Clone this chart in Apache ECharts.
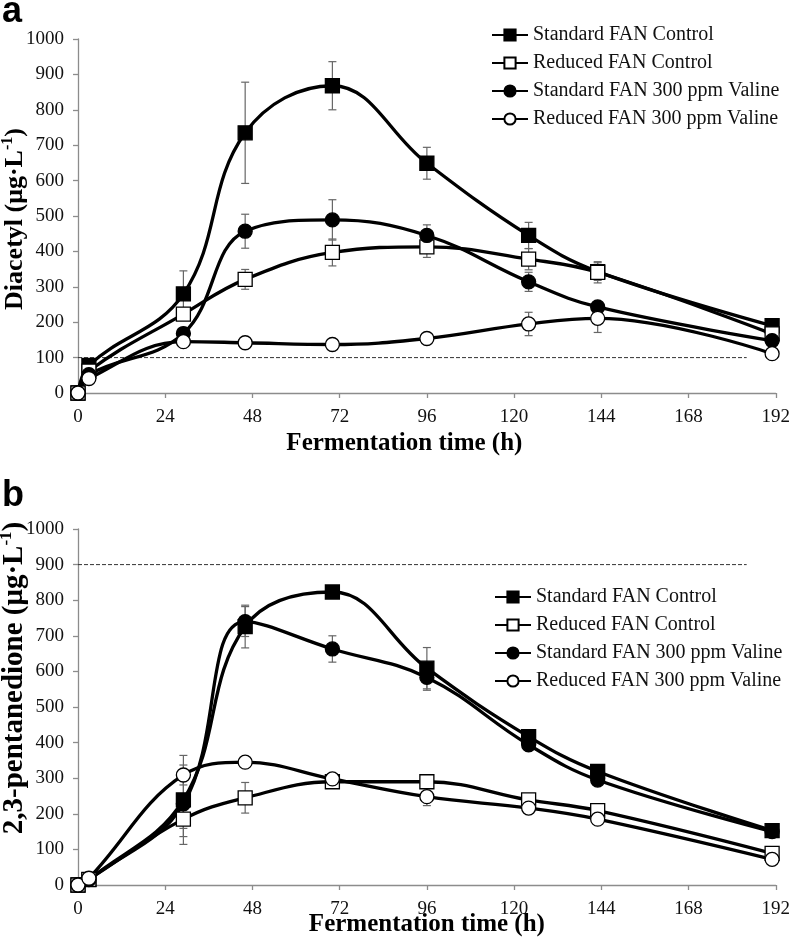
<!DOCTYPE html>
<html><head><meta charset="utf-8">
<script src="https://cdn.jsdelivr.net/npm/echarts@6/dist/echarts.min.js"></script>
<style>html,body{margin:0;padding:0;background:#fff}#c{width:793px;height:946px}</style>
</head><body><div id="c"></div>
<script>
// ---- data ----
const hours = [0, 3, 29, 46, 70, 96, 124, 143, 191];
const seriesNames = ['Standard FAN Control', 'Reduced FAN Control', 'Standard FAN 300 ppm Valine', 'Reduced FAN 300 ppm Valine'];

// Panel a: Diacetyl
const diaStdCtrl = [0, 78, 280, 735, 868, 649, 445, 343, 190];
const diaStdCtrlErr = [0, 0, 65, 143, 68, 45, 37, 25, 0];
const diaRedCtrl = [0, 62, 223, 321, 397, 413, 378, 341, 167];
const diaRedCtrlErr = [0, 0, 0, 28, 38, 30, 30, 30, 0];
const diaStdVal = [0, 52, 168, 457, 489, 445, 314, 243, 148];
const diaStdValErr = [0, 0, 0, 48, 57, 30, 27, 0, 0];
const diaRedVal = [0, 41, 145, 142, 137, 154, 195, 211, 111];
const diaRedValErr = [0, 0, 0, 15, 0, 0, 33, 40, 0];
const diaThreshold = 100;
const diaThresholdEnd = 184;

// Panel b: 2,3-pentanedione
const penStdCtrl = [0, 15, 239, 726, 823, 609, 417, 319, 153];
const penStdCtrlErr = [0, 0, 125, 60, 15, 58, 0, 0, 0];
const penRedCtrl = [0, 16, 185, 245, 290, 290, 239, 209, 89];
const penRedCtrlErr = [0, 0, 26, 43, 0, 10, 0, 0, 0];
const penStdVal = [0, 15, 228, 740, 663, 583, 394, 295, 150];
const penStdValErr = [0, 0, 92, 42, 37, 36, 0, 0, 0];
const penRedVal = [0, 19, 309, 345, 298, 248, 216, 185, 72];
const penRedValErr = [0, 0, 28, 0, 0, 25, 0, 0, 0];
const penThreshold = 900;
const penThresholdEnd = 184;

const xTitle = 'Fermentation time (h)';
const yTitleA = '{b|Diacetyl (μg·L}{s|-1}{b|)}';
const yTitleB = '{b|2,3-pentanedione (μg·L}{s|-1}{b|)}';

// ---- styles ----
const SERIF = 'Liberation Serif';
const styles = [
  {symbol: 'rect', fill: '#000'},
  {symbol: 'rect', fill: '#fff'},
  {symbol: 'circle', fill: '#000'},
  {symbol: 'circle', fill: '#fff'}
];

function pairs(vals) { return hours.map((h, i) => [h, vals[i]]); }
function errPairs(vals, errs) {
  const out = [];
  hours.forEach((h, i) => { if (errs[i] > 0) out.push([h, vals[i], errs[i]]); });
  return out;
}

function errRender(params, api) {
  const x = api.value(0), v = api.value(1), e = api.value(2);
  const top = api.coord([x, v + e]), bot = api.coord([x, v - e]);
  const w = 4;
  const st = {stroke: '#666', lineWidth: 1.2};
  return {type: 'group', children: [
    {type: 'line', shape: {x1: top[0], y1: top[1], x2: bot[0], y2: bot[1]}, style: st},
    {type: 'line', shape: {x1: top[0] - w, y1: top[1], x2: top[0] + w, y2: top[1]}, style: st},
    {type: 'line', shape: {x1: bot[0] - w, y1: bot[1], x2: bot[0] + w, y2: bot[1]}, style: st}
  ]};
}

function panelSeries(idx, sets, thr, thrEnd) {
  const out = [];
  sets.forEach((s) => {
    out.push({
      type: 'custom', xAxisIndex: idx, yAxisIndex: idx, z: 1, silent: true,
      renderItem: errRender, data: errPairs(s[0], s[1]), encode: {x: 0, y: 1}
    });
  });
  out.push({
    type: 'line', xAxisIndex: idx, yAxisIndex: idx, silent: true, symbol: 'none', z: 1,
    data: [[0, thr], [thrEnd, thr]],
    lineStyle: {color: '#333', width: 1, type: [4, 2]}
  });
  sets.forEach((s, k) => {
    out.push({
      name: seriesNames[k], type: 'line', xAxisIndex: idx, yAxisIndex: idx, z: 3,
      data: pairs(s[0]), smooth: 0.4,
      symbol: styles[k].symbol, symbolSize: 14, showAllSymbol: true,
      lineStyle: {color: '#000', width: 3.3},
      itemStyle: {color: styles[k].fill, borderColor: '#000', borderWidth: 1.3},
      emphasis: {disabled: true}
    });
  });
  return out;
}

function xAxis(idx, gap, pad) {
  return {
    type: 'value', gridIndex: idx, min: 0, max: 192, interval: 24,
    name: xTitle, nameLocation: 'middle', nameGap: gap, nameMoveOverlap: false,
    nameTextStyle: {fontFamily: SERIF, fontWeight: 'bold', fontSize: 25, color: '#000', padding: pad},
    axisLine: {lineStyle: {color: '#8c8c8c', width: 1.3}},
    axisTick: {show: true, length: 5, lineStyle: {color: '#8c8c8c', width: 1.3}},
    axisLabel: {fontFamily: SERIF, fontSize: 19, color: '#111', margin: 15},
    splitLine: {show: false}
  };
}
function yAxis(idx) {
  return {
    type: 'value', gridIndex: idx, min: 0, max: 1000, interval: 100,
    axisLine: {show: true, lineStyle: {color: '#8c8c8c', width: 1.3}},
    axisTick: {show: true, length: 5, lineStyle: {color: '#8c8c8c', width: 1.3}},
    axisLabel: {fontFamily: SERIF, fontSize: 19, color: '#111', margin: 14, formatter: (v) => String(v)},
    splitLine: {show: false}
  };
}
function legend(left, top) {
  return {
    data: seriesNames, orient: 'vertical', left: left, top: top,
    itemWidth: 36, itemHeight: 14, itemGap: 8, selectedMode: false,
    textStyle: {fontFamily: SERIF, fontSize: 20, color: '#111'}
  };
}
function yRich(size) {
  return {
    b: {fontFamily: SERIF, fontWeight: 'bold', fontSize: size, color: '#000', lineHeight: size + 4},
    s: {fontFamily: SERIF, fontWeight: 'bold', fontSize: Math.round(size * 0.6), color: '#000', verticalAlign: 'top', lineHeight: Math.round(size * 0.6)}
  };
}

const chart = echarts.init(document.getElementById('c'), null, {renderer: 'canvas'});
chart.setOption({
  backgroundColor: '#fff',
  animation: false,
  tooltip: {show: false},
  grid: [
    {left: 78, top: 39, width: 699, height: 354},
    {left: 78, top: 529, width: 699, height: 356}
  ],
  xAxis: [xAxis(0, 38, [0, 45, 0, 0]), xAxis(1, 27, 0)],
  yAxis: [yAxis(0), yAxis(1)],
  legend: [legend(486, 20), legend(489, 582)],
  graphic: [
    {type: 'text', left: 2, top: -6, style: {text: 'a', font: 'bold 36px "Liberation Sans"', fill: '#000'}},
    {type: 'text', left: 2, top: 478, style: {text: 'b', font: 'bold 36px "Liberation Sans"', fill: '#000'}},
    {type: 'text', x: 15, y: 219, rotation: Math.PI / 2,
      style: {text: yTitleA, rich: yRich(26), align: 'center', verticalAlign: 'middle'}},
    {type: 'text', x: 15, y: 678, rotation: Math.PI / 2,
      style: {text: yTitleB, rich: yRich(29), align: 'center', verticalAlign: 'middle'}}
  ],
  series: [].concat(
    panelSeries(0, [[diaStdCtrl, diaStdCtrlErr], [diaRedCtrl, diaRedCtrlErr], [diaStdVal, diaStdValErr], [diaRedVal, diaRedValErr]], diaThreshold, diaThresholdEnd),
    panelSeries(1, [[penStdCtrl, penStdCtrlErr], [penRedCtrl, penRedCtrlErr], [penStdVal, penStdValErr], [penRedVal, penRedValErr]], penThreshold, penThresholdEnd)
  )
});
</script></body></html>
